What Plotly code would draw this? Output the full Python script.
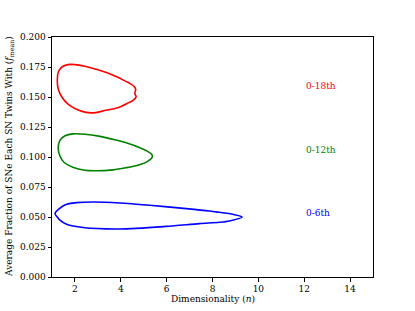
import plotly.graph_objects as go

# Contour outlines (data coordinates)
red_x = [1.23, 1.28, 1.43, 1.70, 2.00, 2.43, 2.96, 3.43, 3.87, 4.22, 4.39, 4.57, 4.65, 4.61, 4.67, 4.52, 4.30, 3.87, 3.35, 2.91, 2.48, 2.04, 1.70, 1.43, 1.28, 1.23]
red_y = [0.164, 0.171, 0.175, 0.177, 0.177, 0.1756, 0.173, 0.170, 0.1664, 0.163, 0.1614, 0.159, 0.1564, 0.153, 0.150, 0.147, 0.1448, 0.141, 0.139, 0.137, 0.1372, 0.140, 0.144, 0.150, 0.156, 0.164]

green_x = [1.27, 1.35, 1.57, 1.91, 2.43, 3.09, 3.74, 4.30, 4.83, 5.17, 5.35, 5.37, 5.17, 4.74, 4.22, 3.65, 2.96, 2.43, 1.91, 1.52, 1.35, 1.27]
green_y = [0.1072, 0.114, 0.1177, 0.1193, 0.119, 0.1172, 0.1143, 0.1114, 0.1077, 0.1047, 0.1022, 0.0998, 0.0964, 0.0931, 0.091, 0.0893, 0.0885, 0.0889, 0.0914, 0.0956, 0.1006, 0.1072]

blue_x = [1.13, 1.32, 1.64, 2.07, 2.80, 3.96, 5.26, 6.86, 7.87, 8.30, 8.88, 9.29, 8.74, 8.30, 7.43, 5.99, 3.96, 2.36, 1.64, 1.32, 1.23, 1.13]
blue_y = [0.0528, 0.057, 0.0606, 0.062, 0.0625, 0.0617, 0.0598, 0.057, 0.055, 0.0539, 0.0523, 0.050, 0.0467, 0.0456, 0.0445, 0.0422, 0.040, 0.0412, 0.0439, 0.0478, 0.050, 0.0528]

labels = ["0-18th", "0-12th", "0-6th"]
label_x = [12.0, 12.0, 12.0]
label_y = [0.159, 0.1055, 0.0535]
colors = ["red", "green", "blue"]

x_ticks = [2, 4, 6, 8, 10, 12, 14]
y_ticks = [0.0, 0.025, 0.05, 0.075, 0.1, 0.125, 0.15, 0.175, 0.2]

FONT = "DejaVu Serif"
FS = 9

fig = go.Figure()
for xs, ys, c in [(red_x, red_y, colors[0]), (green_x, green_y, colors[1]), (blue_x, blue_y, colors[2])]:
    fig.add_trace(go.Scatter(x=xs, y=ys, mode="lines", line=dict(color=c, width=1.6, smoothing=0.8),
                             line_shape="spline", showlegend=False, hoverinfo="skip"))

for t, lx, ly, c in zip(labels, label_x, label_y, colors):
    fig.add_annotation(x=lx, y=ly, text=t, showarrow=False, xanchor="left", yanchor="middle",
                       font=dict(family=FONT, size=FS, color=c))

fig.add_annotation(x=0, y=0.5, xref="paper", yref="paper", xshift=-43,
                   text="Average Fraction of SNe Each SN Twins With (<i>f</i><sub>mean</sub>)",
                   textangle=-90, showarrow=False, xanchor="center", yanchor="middle",
                   font=dict(family=FONT, size=FS, color="black"))
fig.add_annotation(x=0.5, y=0, xref="paper", yref="paper", yshift=-21.5, text="Dimensionality (<i>n</i>)",
                   showarrow=False, xanchor="center", yanchor="middle",
                   font=dict(family=FONT, size=FS, color="black"))

axis_common = dict(showgrid=False, zeroline=False, showline=True, linecolor="black", linewidth=1,
                   mirror=True, ticks="outside", ticklen=3.5, tickwidth=0.8, tickcolor="black",
                   tickfont=dict(family=FONT, size=FS, color="black"))

fig.update_xaxes(range=[1, 15], tickvals=x_ticks, ticktext=[str(v) for v in x_ticks], **axis_common)
fig.update_yaxes(range=[0, 0.2], tickvals=y_ticks, ticktext=[f"{v:.3f}" for v in y_ticks], **axis_common)

fig.update_layout(width=415, height=311, margin=dict(l=52, r=41.7, t=36.7, b=34.3),
                  plot_bgcolor="white", paper_bgcolor="white",
                  font=dict(family=FONT, size=FS, color="black"))

# remove the default page-body margin so the figure sits at the window's top-left corner
fig.write_html("out.html", config={"displayModeBar": False},
               post_script="document.body.style.margin='0';")
